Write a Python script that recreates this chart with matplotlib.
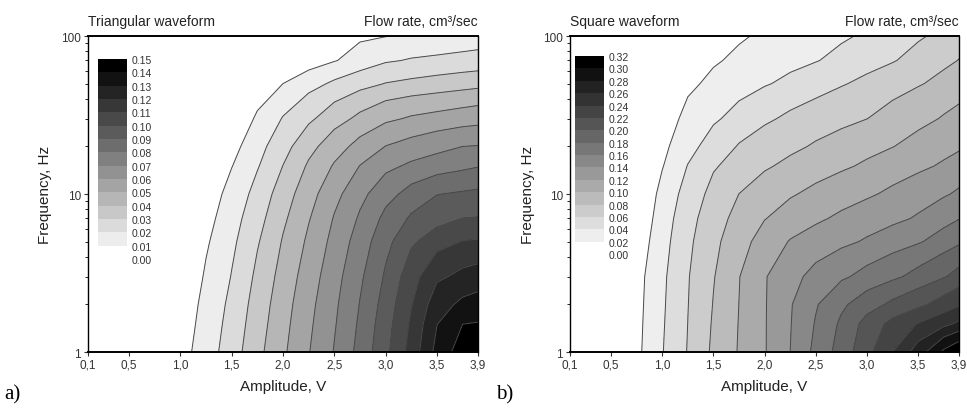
import matplotlib
matplotlib.use('Agg')
import matplotlib.pyplot as plt
import numpy as np
from matplotlib.colors import ListedColormap
from matplotlib.ticker import FormatStrFormatter, NullFormatter, LogLocator

plt.rcParams['font.family'] = ['Liberation Sans', 'DejaVu Sans']

# measurement grid
amplitude = [0.1, 0.5, 0.75, 1.0, 1.25, 1.5, 1.75, 2.0, 2.25, 2.5, 2.75, 3.0, 3.25, 3.5, 3.75, 3.9]
frequency = [1, 1.5, 2, 3, 5, 7, 10, 15, 20, 30, 50, 70, 100]

# flow rate, cm3/sec (rows: frequency, columns: amplitude)
flow_triangular = [
    [0, 0, 0, 0.0061, 0.0150, 0.0252, 0.0371, 0.0483, 0.0595, 0.0705, 0.0832, 0.0975, 0.1138, 0.1331, 0.1452, 0.1500],
    [0, 0, 0, 0.0047, 0.0137, 0.0236, 0.0354, 0.0468, 0.0581, 0.0691, 0.0816, 0.0958, 0.1116, 0.1298, 0.1400, 0.1406],
    [0, 0, 0, 0.0037, 0.0128, 0.0224, 0.0342, 0.0457, 0.0570, 0.0681, 0.0804, 0.0941, 0.1095, 0.1257, 0.1322, 0.1341],
    [0, 0, 0, 0.0019, 0.0111, 0.0204, 0.0321, 0.0437, 0.0549, 0.0662, 0.0782, 0.0913, 0.1059, 0.1182, 0.1224, 0.1241],
    [0, 0, 0, 0, 0.0087, 0.0178, 0.0290, 0.0408, 0.0518, 0.0631, 0.0746, 0.0869, 0.0982, 0.1057, 0.1104, 0.1109],
    [0, 0, 0, 0, 0.0066, 0.0158, 0.0263, 0.0381, 0.0493, 0.0607, 0.0713, 0.0826, 0.0914, 0.0960, 0.1001, 0.1005],
    [0, 0, 0, 0, 0.0044, 0.0134, 0.0233, 0.0350, 0.0461, 0.0569, 0.0671, 0.0763, 0.0836, 0.0897, 0.0911, 0.0918],
    [0, 0, 0, 0, 0.0002, 0.0097, 0.0192, 0.0302, 0.0414, 0.0510, 0.0603, 0.0674, 0.0719, 0.0748, 0.0777, 0.0795],
    [0, 0, 0, 0, 0, 0.0065, 0.0164, 0.0263, 0.0367, 0.0456, 0.0533, 0.0602, 0.0635, 0.0669, 0.0700, 0.0704],
    [0, 0, 0, 0, 0, 0.0020, 0.0114, 0.0206, 0.0280, 0.0357, 0.0424, 0.0479, 0.0512, 0.0531, 0.0550, 0.0561],
    [0, 0, 0, 0, 0, 0, 0.0038, 0.0100, 0.0162, 0.0217, 0.0263, 0.0303, 0.0321, 0.0339, 0.0357, 0.0368],
    [0, 0, 0, 0, 0, 0, 0, 0.0001, 0.0048, 0.0094, 0.0141, 0.0188, 0.0208, 0.0218, 0.0229, 0.0235],
    [0, 0, 0, 0, 0.0001, 0.0015, 0.0029, 0.0042, 0.0056, 0.0070, 0.0084, 0.0097, 0.0111, 0.0125, 0.0138, 0.0147],
]

flow_square = [
    [0, 0, 0.0152, 0.0390, 0.0610, 0.0836, 0.1014, 0.1186, 0.1400, 0.1652, 0.1884, 0.2140, 0.2400, 0.2694, 0.3038, 0.3180],
    [0, 0, 0.0143, 0.0379, 0.0601, 0.0820, 0.1007, 0.1186, 0.1390, 0.1615, 0.1836, 0.2075, 0.2261, 0.2413, 0.2548, 0.2644],
    [0, 0, 0.0136, 0.0371, 0.0595, 0.0807, 0.1001, 0.1185, 0.1383, 0.1582, 0.1761, 0.1912, 0.2042, 0.2151, 0.2284, 0.2375],
    [0, 0, 0.0126, 0.0360, 0.0587, 0.0788, 0.0993, 0.1185, 0.1337, 0.1461, 0.1567, 0.1664, 0.1757, 0.1864, 0.1984, 0.2068],
    [0, 0, 0.0075, 0.0325, 0.0558, 0.0749, 0.0924, 0.1080, 0.1212, 0.1281, 0.1351, 0.1423, 0.1500, 0.1578, 0.1689, 0.1765],
    [0, 0, 0.0033, 0.0297, 0.0528, 0.0713, 0.0864, 0.0993, 0.1081, 0.1167, 0.1236, 0.1295, 0.1353, 0.1421, 0.1528, 0.1593],
    [0, 0, 0.0012, 0.0255, 0.0482, 0.0659, 0.0801, 0.0891, 0.0980, 0.1048, 0.1110, 0.1172, 0.1238, 0.1308, 0.1377, 0.1430],
    [0, 0, 0, 0.0189, 0.0407, 0.0579, 0.0682, 0.0776, 0.0846, 0.0907, 0.0969, 0.1031, 0.1095, 0.1158, 0.1227, 0.1274],
    [0, 0, 0, 0.0150, 0.0331, 0.0488, 0.0614, 0.0685, 0.0756, 0.0822, 0.0880, 0.0937, 0.0995, 0.1063, 0.1132, 0.1174],
    [0, 0, 0, 0.0118, 0.0243, 0.0368, 0.0472, 0.0568, 0.0636, 0.0690, 0.0744, 0.0798, 0.0871, 0.0944, 0.1015, 0.1054],
    [0, 0, 0.0023, 0.0094, 0.0166, 0.0237, 0.0309, 0.0381, 0.0449, 0.0516, 0.0583, 0.0649, 0.0716, 0.0782, 0.0857, 0.0904],
    [0, 0, 0.0023, 0.0076, 0.0128, 0.0181, 0.0233, 0.0285, 0.0338, 0.0390, 0.0454, 0.0520, 0.0586, 0.0669, 0.0755, 0.0806],
    [0, 0, 0, 0.0035, 0.0083, 0.0131, 0.0179, 0.0227, 0.0275, 0.0323, 0.0371, 0.0429, 0.0501, 0.0574, 0.0652, 0.0701],
]

amp_ticks = [0.1, 0.5, 1.0, 1.5, 2.0, 2.5, 3.0, 3.5, 3.9]
amp_labels = ['0,1', '0,5', '1,0', '1,5', '2,0', '2,5', '3,0', '3,5', '3,9']
freq_ticks = [1, 10, 100]
freq_labels = ['1', '10', '100']

levels_tri = np.round(np.arange(0, 0.151, 0.01), 2)
levels_sq = np.round(np.arange(0, 0.321, 0.02), 2)

fig = plt.figure(figsize=(9.67, 4.10), dpi=100)


def draw_panel(ax_rect, cb_rect, flow, levels, title, letter, letter_x, ylab_x):
    ax = fig.add_axes(ax_rect)
    n = len(levels) - 1
    cmap = ListedColormap([str(g) for g in np.linspace(1, 0, n)])
    cs = ax.contourf(amplitude, frequency, flow, levels=levels, cmap=cmap)
    ax.contour(amplitude, frequency, flow, levels=levels[1:-1],
               colors='#4a4a4a', linewidths=0.7)
    ax.set_yscale('log')
    ax.set_xlim(0.1, 3.9)
    ax.set_ylim(1, 100)
    ax.set_xticks(amp_ticks)
    ax.set_xticklabels(amp_labels)
    ax.set_yticks(freq_ticks)
    ax.set_yticklabels(freq_labels)
    ax.yaxis.set_minor_locator(LogLocator(base=10, subs=np.arange(2, 10)))
    ax.yaxis.set_minor_formatter(NullFormatter())
    ax.tick_params(which='major', direction='out', length=3, width=0.8,
                   labelsize=8.5, colors='#333333', pad=2)
    ax.tick_params(which='minor', direction='out', length=2, width=0.6)
    for side, s in ax.spines.items():
        s.set_linewidth(1.4 if side in ('top', 'bottom') else 1.0)
    ax.set_xlabel('Amplitude, V', fontsize=11, color='#222222', labelpad=6)
    fig.text(ylab_x, ax_rect[1] + ax_rect[3] / 2, 'Frequency, Hz', rotation=90,
             fontsize=11, color='#222222', ha='center', va='center')

    # title line above the frame
    fig.text(ax_rect[0], 0.946, title, fontsize=10, color='#222222',
             ha='left', va='center')
    fig.text(ax_rect[0] + ax_rect[2], 0.946, 'Flow rate, cm³/sec', fontsize=10,
             color='#222222', ha='right', va='center')

    # colour scale inside the plot
    cax = fig.add_axes(cb_rect)
    cb = fig.colorbar(cs, cax=cax, ticks=levels)
    cb.outline.set_visible(False)
    cax.yaxis.set_major_formatter(FormatStrFormatter('%.2f'))
    cax.tick_params(length=0, labelsize=7.5, pad=3, colors='#333333')

    fig.text(letter_x, 0.037, letter, fontsize=15, family='Liberation Serif',
             ha='left', va='center')
    return ax


draw_panel([0.0910, 0.1390, 0.4033, 0.7707], [0.1013, 0.3659, 0.0300, 0.4878],
           flow_triangular, levels_tri, 'Triangular waveform', 'a)', 0.004, 0.047)
draw_panel([0.5895, 0.1390, 0.4023, 0.7707], [0.5946, 0.3780, 0.0300, 0.4829],
           flow_square, levels_sq, 'Square waveform', 'b)', 0.513, 0.546)

fig.savefig('out.png', dpi=100, facecolor='white')
